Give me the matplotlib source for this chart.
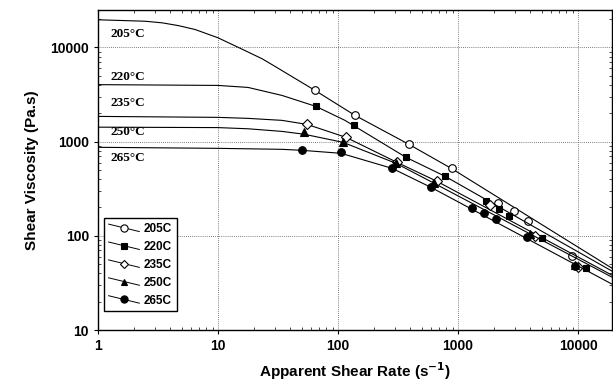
import numpy as np
import matplotlib.pyplot as plt
from matplotlib.lines import Line2D
from matplotlib.legend_handler import HandlerLine2D
from matplotlib.ticker import NullFormatter

plt.rcParams['font.family'] = ['Liberation Sans', 'DejaVu Sans']

temps = ["205C", "220C", "235C", "250C", "265C"]
curve_labels = ["205°C", "220°C", "235°C", "250°C", "265°C"]

# measured points
rate_205 = [64.3, 138.6, 390, 891, 2154, 2929, 3831, 8913]
visc_205 = [3500, 1900, 936, 521, 222, 182, 143, 60.8]
rate_220 = [65.6, 136, 369, 779, 1711, 2197, 2661, 5012, 11660]
visc_220 = [2366, 1490, 681, 429, 233, 191, 161, 94.5, 45.3]
rate_235 = [55.2, 116.6, 310, 668, 1848, 4383, 10000]
visc_235 = [1525, 1111, 603, 379, 211, 99, 46.4]
rate_250 = [52, 110, 304, 631, 3981, 9441]
visc_250 = [1257, 984, 589, 362, 104, 48.8]
rate_265 = [50.1, 106, 282, 596, 1308, 1648, 2074, 3758, 9441]
visc_265 = [809, 771, 521, 327, 196, 174, 150, 96.6, 47.7]

# fitted model curves
fit_rate_205 = [1, 2.46, 3.41, 4.64, 6.44, 10, 14.7, 23.3, 29.9, 64.3, 138.6, 390, 891, 19200]
fit_visc_205 = [19680, 19000, 18280, 17100, 15520, 12670, 10050, 7590, 6290, 3500, 1900, 936, 515, 45.3]
fit_rate_220 = [1, 10, 17.8, 34.1, 65.6, 114.3, 369, 779, 19200]
fit_visc_220 = [4030, 3955, 3765, 3097, 2366, 1683, 681, 429, 42.2]
fit_rate_235 = [1, 10, 17.8, 34.1, 55.2, 116.6, 310, 668, 19200]
fit_visc_235 = [1854, 1811, 1767, 1683, 1525, 1111, 603, 379, 38.2]
fit_rate_250 = [1, 10, 17.8, 34.1, 52, 110, 304, 631, 19200]
fit_visc_250 = [1425, 1410, 1370, 1285, 1200, 984, 589, 362, 36.4]
fit_rate_265 = [1, 10, 34.1, 50.1, 106, 282, 596, 19200]
fit_visc_265 = [871, 849, 829, 809, 752, 521, 327, 30.7]

rates = [rate_205, rate_220, rate_235, rate_250, rate_265]
viscs = [visc_205, visc_220, visc_235, visc_250, visc_265]
fit_rates = [fit_rate_205, fit_rate_220, fit_rate_235, fit_rate_250, fit_rate_265]
fit_viscs = [fit_visc_205, fit_visc_220, fit_visc_235, fit_visc_250, fit_visc_265]

markers = ["o", "s", "D", "^", "o"]
faces = ["white", "black", "white", "black", "black"]
sizes = [5.5, 4.8, 4.8, 5.2, 5.5]
label_y = [14070, 4810, 2550, 1280, 663]


class SlantHandler(HandlerLine2D):
    # draw the legend line sloping down to the right
    def create_artists(self, legend, orig_handle, xdescent, ydescent,
                       width, height, fontsize, trans):
        arts = super().create_artists(legend, orig_handle, xdescent, ydescent,
                                      width, height, fontsize, trans)
        line = arts[0]
        mid = height / 2 - ydescent
        n = len(line.get_xdata())
        line.set_ydata(np.linspace(mid + 0.45 * height, mid - 0.45 * height, n))
        return arts


fig = plt.figure(figsize=(6.13, 3.86), dpi=100)
ax = fig.add_axes([98 / 613, 56 / 386, 514 / 613, 320 / 386])

for i in range(5):
    ax.plot(fit_rates[i], fit_viscs[i], color="black", lw=0.8)
    ax.plot(rates[i], viscs[i], ls="none", marker=markers[i], ms=sizes[i],
            mfc=faces[i], mec="black", mew=0.8)
    ax.text(1.28, label_y[i], curve_labels[i], family="Liberation Serif",
            fontsize=9.5, fontweight="bold", va="center", ha="left")

ax.set_xscale("log")
ax.set_yscale("log")
ax.set_xlim(1, 19200)
ax.set_ylim(10, 25000)

ax.xaxis.set_minor_formatter(NullFormatter())
ax.yaxis.set_minor_formatter(NullFormatter())
ax.set_xticks([1, 10, 100, 1000, 10000])
ax.set_xticklabels(["1", "10", "100", "1000", "10000"])
ax.set_yticks([10, 100, 1000, 10000])
ax.set_yticklabels(["10", "100", "1000", "10000"])
ax.tick_params(which="major", direction="out", length=3, width=0.8,
               labelsize=10)
ax.tick_params(which="minor", direction="in", length=2, width=0.5,
               top=True, right=True)
for lab in ax.get_xticklabels() + ax.get_yticklabels():
    lab.set_fontweight("bold")

ax.grid(True, which="major", ls=(0, (1, 1.5)), color="#555555", lw=0.6)
for s in ax.spines.values():
    s.set_linewidth(1.0)

ax.set_xlabel("Apparent Shear Rate (s$^{\\mathbf{-1}}$)", fontsize=11,
              fontweight="bold", labelpad=5)
ax.set_ylabel("Shear Viscosity (Pa.s)", fontsize=11, fontweight="bold",
              labelpad=8)

handles = [Line2D([], [], color="black", lw=0.7, marker=markers[i],
                  ms=sizes[i] - 0.3, mfc=faces[i], mec="black", mew=0.8)
           for i in range(5)]
leg = ax.legend(handles, temps, loc="lower left", bbox_to_anchor=(0.0, 0.04),
                numpoints=1, handlelength=2.6, handletextpad=0.4,
                labelspacing=0.5, borderpad=0.4, fancybox=False,
                edgecolor="black", framealpha=1,
                prop={"weight": "bold", "size": 8.5},
                handler_map={Line2D: SlantHandler()})
leg.get_frame().set_linewidth(1.0)

fig.savefig("out.png", dpi=100)
